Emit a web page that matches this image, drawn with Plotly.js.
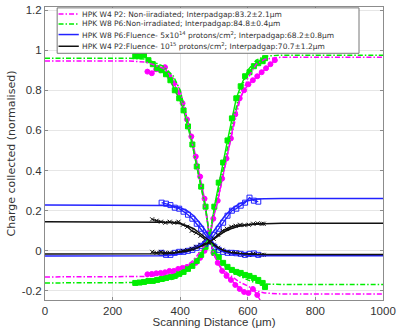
<!DOCTYPE html>
<html>
<head>
<meta charset="utf-8">
<script src="https://cdn.plot.ly/plotly-3.0.1.min.js"></script>
<style>html,body{margin:0;padding:0;background:#fff;}#chart{width:405px;height:328px;}</style>
</head>
<body>
<div id="chart"></div>
<script>
// ---- Fit curves ----
const fitX = [0, 250, 300, 350, 380, 400, 420, 440, 460, 475, 487, 500, 515, 530, 550, 575, 600, 625, 650, 700, 1000];
const fitMagA = [0.946, 0.946, 0.94, 0.91, 0.86, 0.80, 0.66, 0.50, 0.34, 0.20, 0.07, -0.02, -0.07, -0.10, -0.125, -0.155, -0.175, -0.20, -0.21, -0.215, -0.215];
const fitMagB = [-0.13, -0.13, -0.128, -0.12, -0.11, -0.095, -0.075, -0.045, -0.005, 0.03, 0.07, 0.18, 0.28, 0.40, 0.56, 0.74, 0.86, 0.93, 0.955, 0.965, 0.965];
const fitGrnA = [0.96, 0.96, 0.955, 0.92, 0.87, 0.80, 0.66, 0.50, 0.34, 0.21, 0.07, 0.0, -0.04, -0.075, -0.10, -0.125, -0.145, -0.16, -0.165, -0.168, -0.168];
const fitGrnB = [-0.16, -0.16, -0.158, -0.15, -0.14, -0.125, -0.10, -0.07, -0.02, 0.03, 0.08, 0.20, 0.31, 0.43, 0.60, 0.78, 0.90, 0.95, 0.97, 0.975, 0.975];
const fitBluA = [0.228, 0.228, 0.228, 0.226, 0.222, 0.215, 0.20, 0.175, 0.135, 0.10, 0.065, 0.035, 0.01, -0.005, -0.015, -0.02, -0.023, -0.024, -0.025, -0.025, -0.025];
const fitBluB = [-0.026, -0.026, -0.026, -0.024, -0.02, -0.015, -0.005, 0.01, 0.03, 0.05, 0.07, 0.10, 0.135, 0.17, 0.205, 0.235, 0.25, 0.258, 0.26, 0.261, 0.261];
const fitBlkA = [0.145, 0.145, 0.145, 0.143, 0.14, 0.135, 0.125, 0.11, 0.085, 0.065, 0.045, 0.03, 0.012, 0.0, -0.008, -0.013, -0.016, -0.017, -0.018, -0.018, -0.018];
const fitBlkB = [-0.016, -0.016, -0.016, -0.014, -0.011, -0.008, -0.002, 0.008, 0.022, 0.033, 0.045, 0.06, 0.078, 0.095, 0.11, 0.123, 0.13, 0.133, 0.135, 0.137, 0.137];

// ---- Measured data ----
const magX = [303,316,329,342,355,368,381,394,407,420,433,446,459,472,485,498,511,524,537,550,563,576,589,602,615,628,641,654,667,680];
const magA = [0.893,0.885,0.905,0.90,0.915,0.87,0.835,0.79,0.735,0.655,0.57,0.47,0.37,0.26,0.09,-0.01,-0.06,-0.10,-0.125,-0.145,-0.17,-0.19,-0.205,-0.21,-0.19,-0.22,-0.26,-0.28,-0.29,-0.30];
const magB = [-0.117,-0.115,-0.112,-0.11,-0.107,-0.10,-0.10,-0.09,-0.085,-0.08,-0.07,-0.06,-0.035,0.0,0.05,0.16,0.25,0.36,0.46,0.56,0.68,0.76,0.80,0.83,0.85,0.87,0.89,0.91,0.93,0.95];
const grnX = [267,280,293,306,319,332,345,358,371,384,397,410,423,436,449,462,475,488,501,514,527,540,553,566,579,592,605,618,631,644,651];
const grnA = [0.97,0.97,0.975,0.95,0.93,0.91,0.90,0.88,0.85,0.80,0.76,0.70,0.62,0.53,0.42,0.32,0.22,0.05,-0.01,-0.03,-0.06,-0.08,-0.095,-0.105,-0.11,-0.12,-0.125,-0.135,-0.145,-0.16,-0.18];
const grnB = [-0.16,-0.158,-0.155,-0.15,-0.15,-0.145,-0.14,-0.135,-0.13,-0.125,-0.115,-0.105,-0.09,-0.075,-0.05,-0.02,0.02,0.06,0.22,0.34,0.44,0.55,0.66,0.76,0.82,0.87,0.89,0.92,0.935,0.945,0.96];
const bluX = [345,358,371,384,397,410,423,436,449,462,475,488,501,514,527,540,553,566,579,592,605,618,631];
const bluA = [0.24,0.235,0.228,0.215,0.21,0.195,0.18,0.16,0.135,0.11,0.08,0.045,0.02,0.005,-0.005,-0.01,-0.01,-0.012,-0.015,-0.02,-0.015,-0.013,-0.02];
const bluB = [-0.01,-0.02,-0.02,-0.01,-0.005,-0.005,0.0,0.005,0.015,0.025,0.035,0.05,0.08,0.11,0.14,0.175,0.20,0.21,0.225,0.24,0.265,0.25,0.245];
const blkX = [317,330,343,356,369,382,395,408,421,434,447,460,473,486,499,512,525,538,551,564,577,590,603,616,629,642,647];
const blkA = [0.157,0.15,0.145,0.14,0.145,0.14,0.145,0.13,0.12,0.10,0.09,0.075,0.055,0.04,0.03,0.015,0.005,-0.005,-0.01,-0.01,-0.015,-0.02,-0.02,-0.015,-0.02,-0.02,-0.02];
const blkB = [-0.005,-0.01,-0.005,-0.01,-0.01,-0.01,-0.005,0.0,0.003,0.01,0.02,0.03,0.037,0.045,0.06,0.08,0.10,0.11,0.12,0.125,0.13,0.128,0.13,0.135,0.137,0.135,0.135];

const legendNames = [
  'HPK W4 P2: Non-iiradiated; Interpadgap:83.2±2.1μm',
  'HPK W8 P6:Non-irradiated; Interpadgap:84.8±0.4μm',
  'HPK W8 P6:Fluence- 5x10<sup>14</sup> protons/cm<sup>2</sup>; Interpadgap:68.2±0.8μm',
  'HPK W4 P2:Fluence- 10<sup>15</sup> protons/cm<sup>2</sup>; Interpadgap:70.7±1.2μm'
];

const MAG = '#ff00ff', GRN = '#00ee00', BLU = '#2222ff', BLK = '#111111';
const DD = '5px,2px,1.5px,2px';
const legendColors = [MAG, GRN, BLU, BLK];
const legendDash = [DD, DD, 'solid', 'solid'];

function dataTrace(x, y, color, symbol, size) {
  return {x: x, y: y, mode: 'lines+markers', showlegend: false, hoverinfo: 'skip',
    line: {color: color, width: 1.4},
    marker: {color: color, size: size, symbol: symbol, line: {color: color, width: 1}}};
}
function fitTrace(y, color, dash) {
  return {x: fitX, y: y, mode: 'lines', showlegend: false, hoverinfo: 'skip',
    line: {color: color, width: 1.5, dash: dash}};
}

const traces = [
  dataTrace(magX, magA, MAG, 'circle', 5),
  dataTrace(magX, magB, MAG, 'circle', 5),
  dataTrace(grnX, grnA, GRN, 'square', 5),
  dataTrace(grnX, grnB, GRN, 'square', 5),
  dataTrace(bluX, bluA, BLU, 'square-open', 5),
  dataTrace(bluX, bluB, BLU, 'square-open', 5),
  dataTrace(blkX, blkA, BLK, 'x-thin-open', 4),
  dataTrace(blkX, blkB, BLK, 'x-thin-open', 4),
  fitTrace(fitMagA, MAG, DD),
  fitTrace(fitMagB, MAG, DD),
  fitTrace(fitGrnA, GRN, DD),
  fitTrace(fitGrnB, GRN, DD),
  fitTrace(fitBluA, BLU, 'solid'),
  fitTrace(fitBluB, BLU, 'solid'),
  fitTrace(fitBlkA, BLK, 'solid'),
  fitTrace(fitBlkB, BLK, 'solid')
];

// legend drawn as a boxed list (paper coordinates of the plot area)
const legY = [0.976, 0.942, 0.906, 0.866];
const shapes = [{type: 'rect', xref: 'paper', yref: 'paper', x0: 0.036, x1: 0.929, y0: 0.842, y1: 0.997,
  fillcolor: '#ffffff', line: {color: '#777777', width: 1}, layer: 'above'}];
const annotations = [];
legendNames.forEach(function (n, i) {
  shapes.push({type: 'line', xref: 'paper', yref: 'paper', x0: 0.040, x1: 0.100, y0: legY[i], y1: legY[i],
    line: {color: legendColors[i], width: 1.5, dash: legendDash[i]}, layer: 'above'});
  annotations.push({xref: 'paper', yref: 'paper', x: 0.103, y: legY[i], xanchor: 'left', yanchor: 'middle',
    text: n, showarrow: false, font: {family: 'DejaVu Sans, sans-serif', size: 7.5, color: '#333333'}});
});

const axisCommon = {
  showline: true, mirror: 'ticks', linecolor: '#8c8c8c', linewidth: 1,
  ticks: 'inside', ticklen: 3, tickcolor: '#8c8c8c',
  showgrid: true, gridcolor: '#e6e6e6', gridwidth: 1, zeroline: false,
  tickfont: {family: 'Liberation Sans, Arial, sans-serif', size: 11.5, color: '#333333'}
};

const layout = {
  width: 405, height: 328,
  margin: {l: 45, r: 22, t: 7, b: 28},
  paper_bgcolor: '#ffffff', plot_bgcolor: '#ffffff',
  showlegend: false,
  shapes: shapes,
  annotations: annotations,
  xaxis: Object.assign({}, axisCommon, {
    range: [0, 1000], tickvals: [0, 200, 400, 600, 800, 1000],
    title: {text: 'Scanning Distance (μm)', standoff: 0, font: {family: 'Liberation Sans, Arial, sans-serif', size: 11.5, color: '#333333'}}
  }),
  yaxis: Object.assign({}, axisCommon, {
    range: [-0.245, 1.215], tickvals: [-0.2, 0, 0.2, 0.4, 0.6, 0.8, 1, 1.2],
    ticktext: ['-0.2', '0', '0.2', '0.4', '0.6', '0.8', '1', '1.2'],
    title: {text: 'Charge collected (normalised)', standoff: 4, font: {family: 'DejaVu Sans, sans-serif', size: 11, color: '#333333'}}
  })
};

Plotly.newPlot('chart', traces, layout, {displayModeBar: false, staticPlot: true});
</script>
</body>
</html>
